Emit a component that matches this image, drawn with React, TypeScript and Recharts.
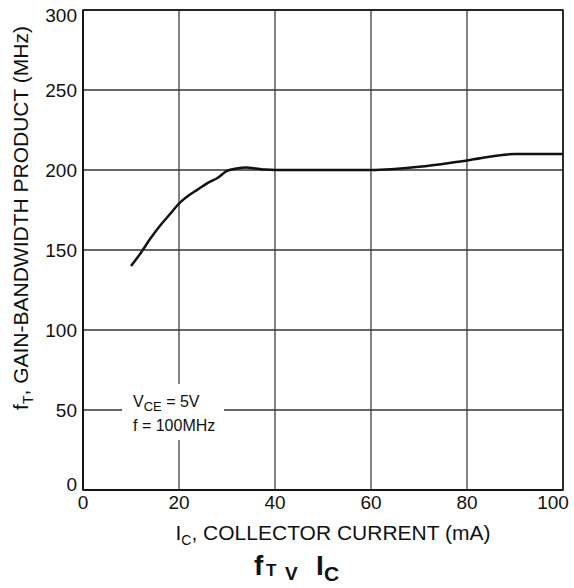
import { LineChart, Line, XAxis, YAxis, CartesianGrid, ReferenceArea } from 'recharts';

// collector current (mA) and fT (MHz)
const IC_MA = [10, 12, 14, 16, 18, 20, 22, 24, 26, 28, 30, 32, 34, 36, 38, 40, 50, 60, 70, 80, 90, 100];
const FT_MHZ = [140, 148, 157, 165, 172, 179, 184, 188, 192, 195, 199.5, 201, 201.5, 201, 200.3, 200, 200, 200, 202, 206, 210, 210];

const X_TICKS = [0, 20, 40, 60, 80, 100];
const Y_TICKS = [0, 50, 100, 150, 200, 250, 300];

const data = IC_MA.map((ic, i) => ({ ic, ft: FT_MHZ[i] }));

const FONT = '"Liberation Sans", Arial, sans-serif';
const W = 574;
const H = 588;

function YTick({ x, y, payload }: any) {
  let dy = 0;
  if (payload.value === 300) dy = 5;
  if (payload.value === 0) dy = -6;
  return (
    <text x={x} y={y + dy} dy="0.36em" textAnchor="end" fontSize={19} fontFamily={FONT} fill="#111">
      {payload.value}
    </text>
  );
}

function XTick({ x, y, payload }: any) {
  const dx = payload.value === 100 ? -9 : 0;
  return (
    <text x={x + dx} y={y} dy="0.72em" textAnchor="middle" fontSize={19} fontFamily={FONT} fill="#111">
      {payload.value}
    </text>
  );
}

function XTitle() {
  return (
    <text x={333} y={540} textAnchor="middle" fontSize={21} fontFamily={FONT} fill="#111">
      I<tspan fontSize={14} dy={5}>C</tspan>
      <tspan dy={-5}>, COLLECTOR CURRENT (mA)</tspan>
    </text>
  );
}

function YTitle() {
  return (
    <text
      x={0}
      y={0}
      transform="translate(28, 218) rotate(-90)"
      textAnchor="middle"
      fontSize={21}
      fontFamily={FONT}
      fill="#111"
    >
      f<tspan fontSize={14} dy={5}>T</tspan>
      <tspan dy={-5}>, GAIN-BANDWIDTH PRODUCT (MHz)</tspan>
    </text>
  );
}

export default function App() {
  return (
    <div style={{ position: 'absolute', left: 0, top: 0, width: W, height: H, background: '#fff' }}>
      <LineChart width={W} height={H} data={data} margin={{ top: 10, right: 11, bottom: 38, left: 0 }}>
        <CartesianGrid horizontal={false} stroke="#808080" strokeWidth={2} />
        <CartesianGrid vertical={false} stroke="#333" strokeWidth={1.5} />
        <XAxis
          dataKey="ic"
          type="number"
          domain={[0, 100]}
          ticks={X_TICKS}
          height={60}
          tickSize={0}
          tickMargin={5}
          tick={<XTick />}
          axisLine={{ stroke: '#111', strokeWidth: 1.5 }}
          tickLine={false}
          label={(p: any) => <XTitle {...p} />}
        />
        <YAxis
          type="number"
          domain={[0, 300]}
          ticks={Y_TICKS}
          width={83}
          tickSize={0}
          tickMargin={6}
          tick={<YTick />}
          axisLine={{ stroke: '#111', strokeWidth: 1.5 }}
          tickLine={false}
          label={(p: any) => <YTitle {...p} />}
        />
        <ReferenceArea x1={0} x2={100} y1={0} y2={300} fill="none" stroke="#111" strokeWidth={1.5} ifOverflow="visible" />
        <Line
          dataKey="ft"
          type="monotone"
          stroke="#111"
          strokeWidth={2.5}
          dot={false}
          isAnimationActive={false}
        />
      </LineChart>
      <svg width={W} height={H} style={{ position: 'absolute', left: 0, top: 0, pointerEvents: 'none' }}>
        <rect x={122} y={384} width={102} height={56} fill="#fff" />
        <text x={133} y={407} fontSize={16} fontFamily={FONT} fill="#111">
          V<tspan fontSize={13} dy={4}>CE</tspan>
          <tspan dy={-4}> = 5V</tspan>
        </text>
        <text x={133} y={431} fontSize={16} fontFamily={FONT} fill="#111">
          f = 100MHz
        </text>
        <text fontWeight="bold" fontFamily={FONT} fill="#111">
          <tspan x={254} y={575} fontSize={28}>f</tspan>
          <tspan x={266} y={576} fontSize={17}>T</tspan>
          <tspan x={285} y={580} fontSize={19}>V</tspan>
          <tspan x={316} y={575} fontSize={28}>I</tspan>
          <tspan x={324} y={581} fontSize={21}>C</tspan>
        </text>
      </svg>
    </div>
  );
}
